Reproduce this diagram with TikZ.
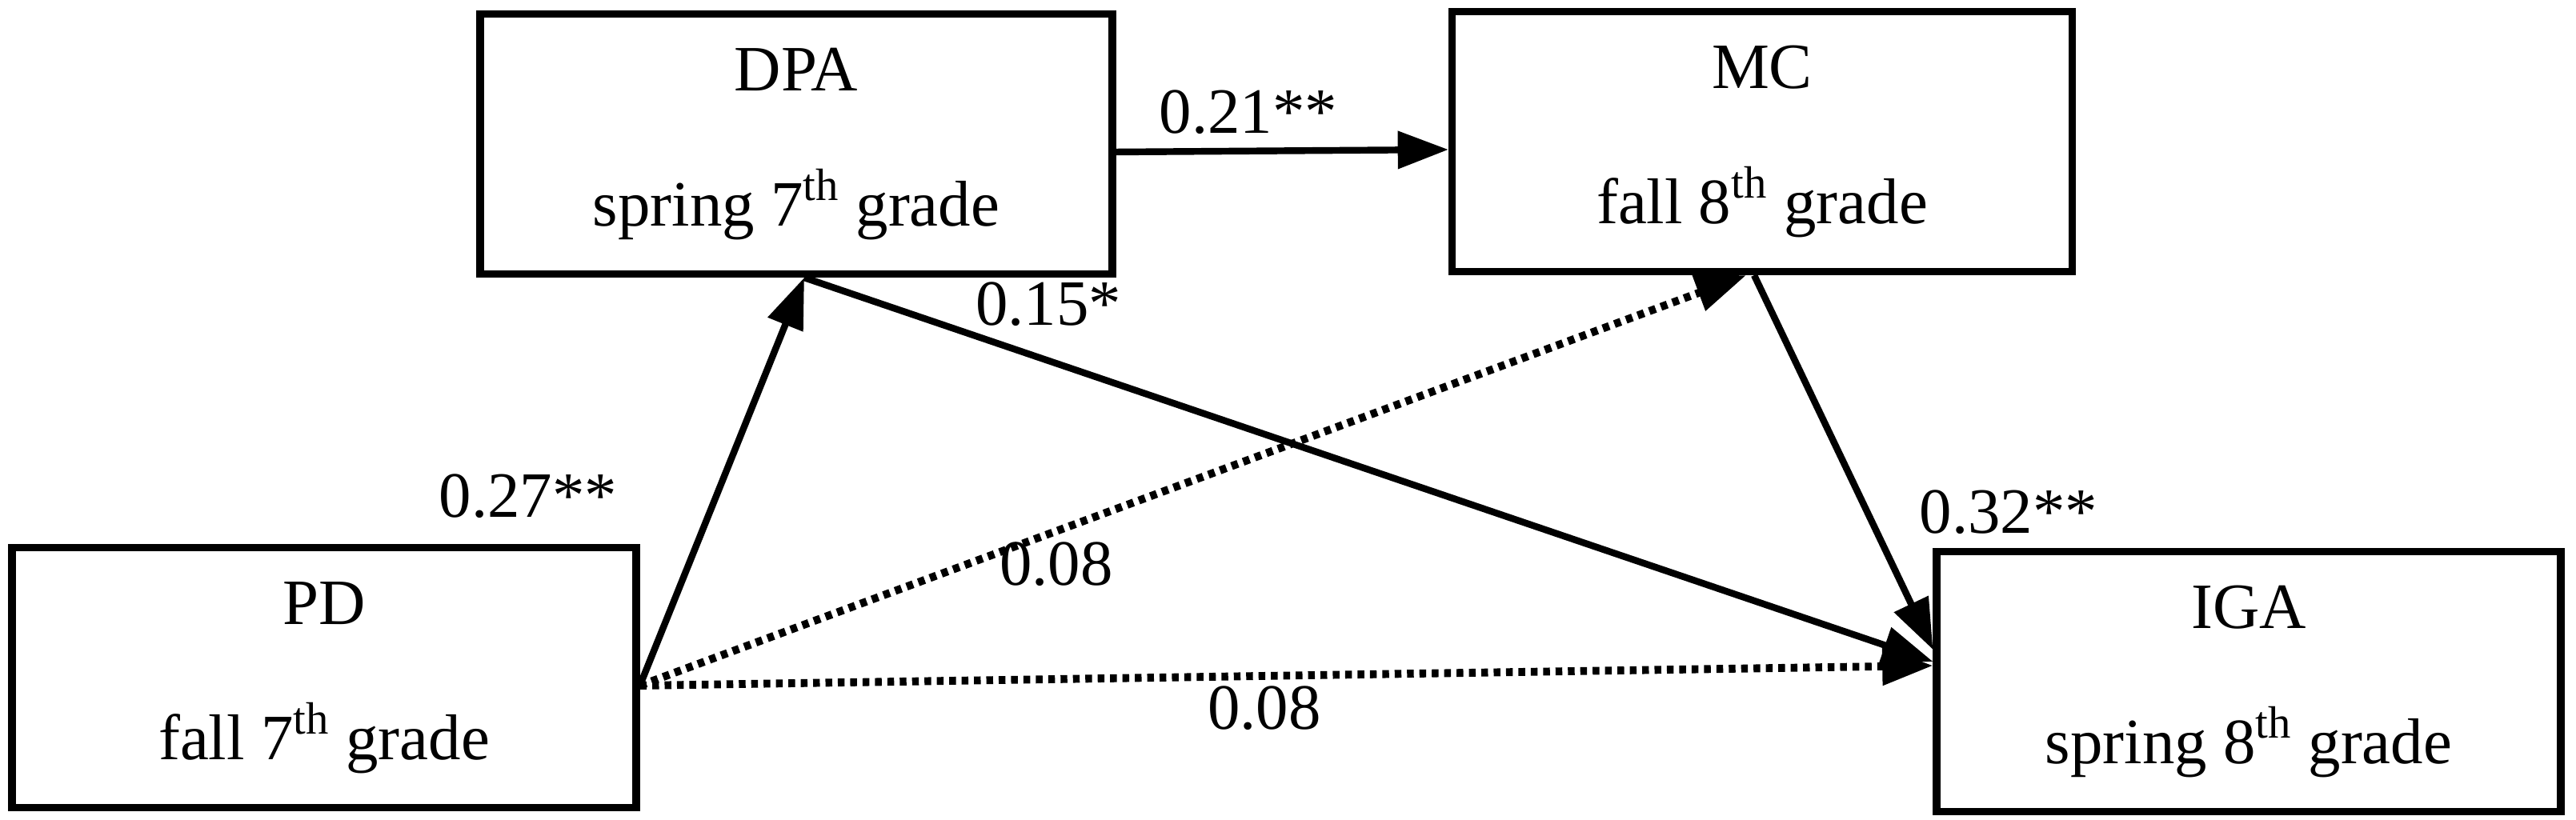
\documentclass[tikz,border=0pt]{standalone}
\usepackage{fontspec}
\setmainfont{Liberation Serif}
\usetikzlibrary{positioning,calc,arrows.meta}
\tikzset{
  caja/.style={draw,line width=2.6pt,minimum width=7.8cm,minimum height=3.25cm,align=center,font=\fontsize{23}{48}\selectfont},
  flecha/.style={line width=2.4pt,-{Triangle[length=18pt,width=13pt]}},
  punteada/.style={flecha,dotted,line width=2.8pt},
  coef/.style={font=\fontsize{23}{26}\selectfont}
}
\begin{document}
\begin{tikzpicture}
	\useasboundingbox (0,0) rectangle (32.19,10.25);
	\node[caja] (pd) at (4.05,1.78) {PD\\fall 7\textsuperscript{th} grade};
	\node[caja,minimum width=7.9cm] (dpa) at (9.95,8.45) {DPA\\spring 7\textsuperscript{th} grade};
	\node[caja,minimum width=7.75cm] (mc) at (22.02,8.48) {MC\\fall 8\textsuperscript{th} grade};
	\node[caja] (iga) at (28.1,1.73) {IGA\\spring 8\textsuperscript{th} grade};

	\draw[flecha] ([yshift=-0.1cm]pd.east) -- ([xshift=0.1cm]dpa.south);
	\draw[flecha] ([yshift=-0.1cm]dpa.east) -- ([yshift=-0.1cm]mc.west);
	\draw[flecha] ([xshift=0.1cm]dpa.south) -- ([yshift=0.25cm]iga.west);
	\draw[punteada] ([yshift=-0.1cm]pd.east) -- ([xshift=-0.2cm]mc.south);
	\draw[punteada] ([yshift=-0.1cm]pd.east) -- ([yshift=0.2cm]iga.west);
	\draw[flecha] ([xshift=-0.1cm]mc.south) -- ([yshift=0.4cm]iga.west);

	\node[coef] (c1) at (6.6,4.05) {0.27**};
	\node[coef] (c2) at (15.6,8.85) {0.21**};
	\node[coef] (c3) at (13.1,6.45) {0.15*};
	\node[coef] (c4) at (13.2,3.2) {0.08};
	\node[coef] (c5) at (15.8,1.4) {0.08};
	\node[coef] (c6) at (25.1,3.85) {0.32**};
\end{tikzpicture}
\end{document}
